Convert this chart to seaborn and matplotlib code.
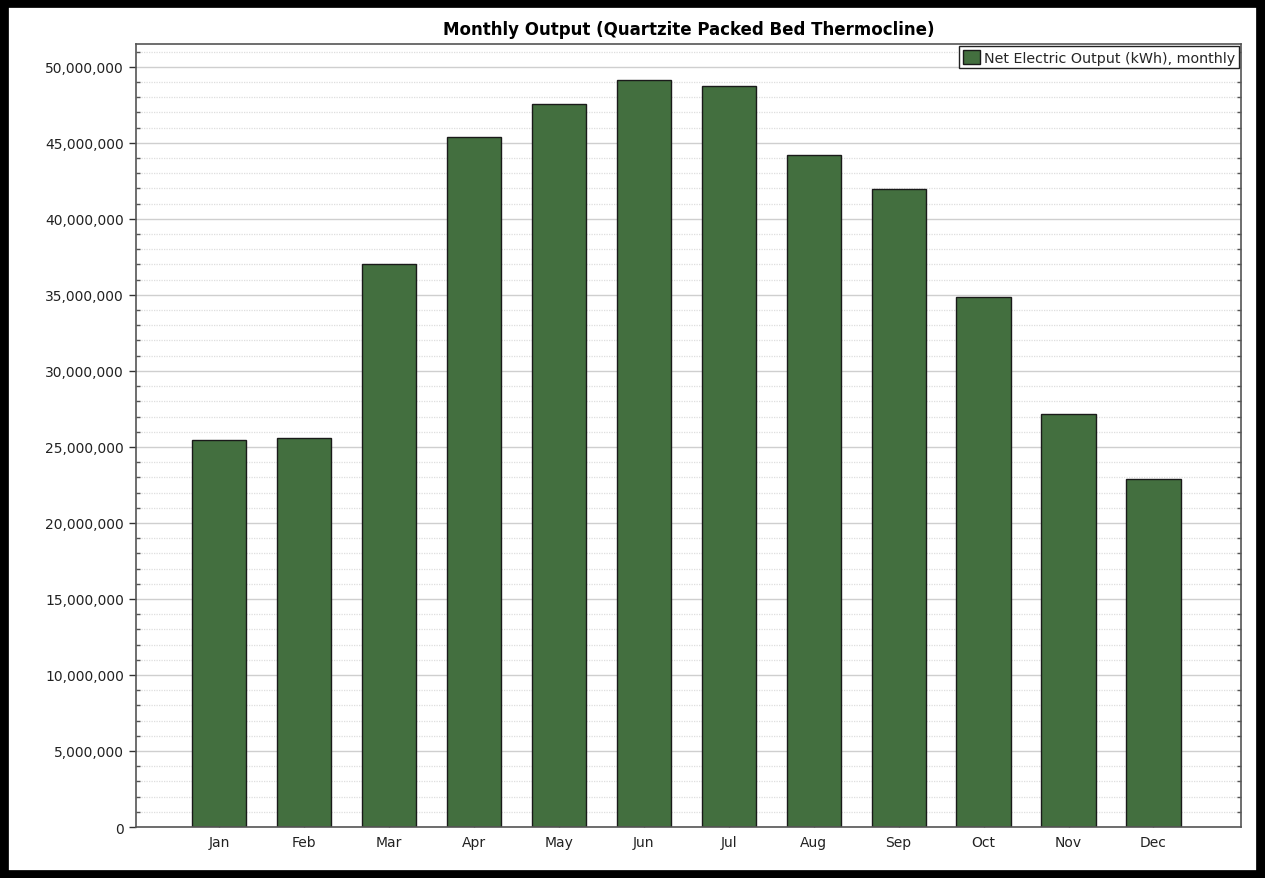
import matplotlib
matplotlib.use("Agg")
import numpy as np
import pandas as pd
import matplotlib.pyplot as plt
from matplotlib.ticker import FuncFormatter, MultipleLocator
from matplotlib.patches import Rectangle
import seaborn as sns

# Data (kWh per month)
months = ["Jan", "Feb", "Mar", "Apr", "May", "Jun",
          "Jul", "Aug", "Sep", "Oct", "Nov", "Dec"]
net_output = [25_480_000, 25_560_000, 37_040_000, 45_400_000, 47_570_000, 49_100_000,
              48_750_000, 44_230_000, 41_970_000, 34_850_000, 27_170_000, 22_900_000]
series_name = "Net Electric Output (kWh), monthly"
chart_title = "Monthly Output (Quartzite Packed Bed Thermocline)"

df = pd.DataFrame({"month": months, "output": net_output})

sns.set_theme(style="white")
plt.rcParams["font.family"] = ["DejaVu Sans"]

fig = plt.figure(figsize=(12.65, 8.79), dpi=100)
ax = fig.add_axes([0.1075, 0.058, 0.8735, 0.8908])

bar_color = "#436f3f"
sns.barplot(data=df, x="month", y="output", color=bar_color, saturation=1,
            width=0.64, edgecolor="#1a1a1a", linewidth=1.0, label=series_name, ax=ax)

# Axis limits and ticks
ax.set_xlim(-0.98, 12.03)
ax.set_ylim(0, 51_500_000)
ax.yaxis.set_major_locator(MultipleLocator(5_000_000))
ax.yaxis.set_minor_locator(MultipleLocator(1_000_000))
ax.yaxis.set_major_formatter(FuncFormatter(lambda v, p: f"{v:,.0f}"))
ax.set_xlabel("")
ax.set_ylabel("")

# Grid lines
ax.set_axisbelow(True)
ax.grid(which="major", axis="y", color="#cfcfcf", linewidth=1.0)
ax.grid(which="minor", axis="y", color="#dedede", linewidth=0.9, linestyle=(0, (1, 1)))

ax.tick_params(axis="y", which="major", direction="out", length=5, width=1,
               color="#333333", labelsize=10, labelcolor="#222222", left=True)
ax.tick_params(axis="y", which="minor", direction="in", length=3, width=1,
               color="#555555", left=True, right=True)
ax.tick_params(axis="x", which="major", direction="in", length=4, width=1,
               color="#333333", labelsize=10, labelcolor="#222222", bottom=True, pad=6)

for side in ["left", "bottom", "top", "right"]:
    ax.spines[side].set_visible(True)
    ax.spines[side].set_color("#555555")
    ax.spines[side].set_linewidth(1.2)

ax.set_title(chart_title, fontsize=12, fontweight="bold", color="black", pad=7)

leg = ax.legend(loc="upper right", frameon=True, fancybox=False, fontsize=10.3,
                borderaxespad=0.15, borderpad=0.25, handlelength=1.2, handleheight=1.2,
                handletextpad=0.3)
leg.get_frame().set_edgecolor("#222222")
leg.get_frame().set_linewidth(1.0)
leg.get_frame().set_alpha(1)

# Thick black frame around the whole picture
fig.patches.append(Rectangle((0.003, 0.003), 0.994, 0.992, transform=fig.transFigure,
                             fill=False, edgecolor="black", linewidth=7, zorder=10))

fig.savefig("out.png", dpi=100, facecolor="white")
